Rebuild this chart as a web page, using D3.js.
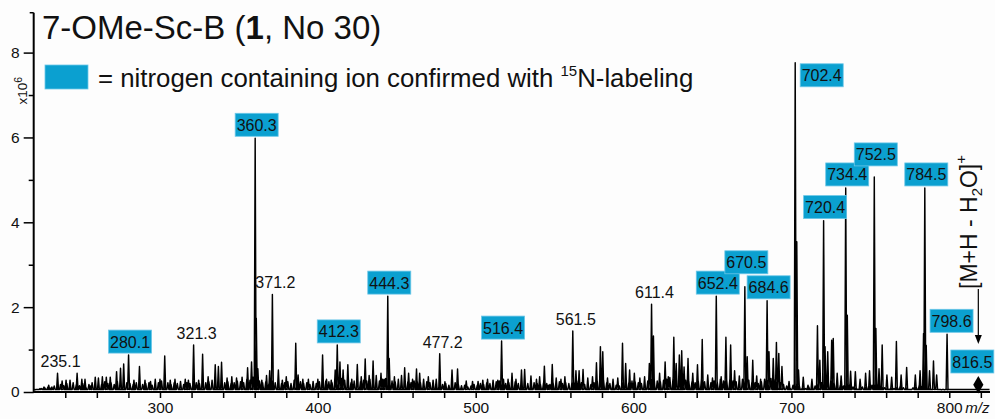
<!DOCTYPE html>
<html>
<head>
<meta charset="utf-8">
<script src="https://cdn.jsdelivr.net/npm/d3@7"></script>
<style>
  html, body { margin: 0; padding: 0; background: #fdfdfd; }
  svg { display: block; font-family: "Liberation Sans", Arial, sans-serif; }
</style>
</head>
<body>
<svg id="chart" width="995" height="419"></svg>
<script>
// ---- spectrum data (intensity in units of 10^6 counts) ----
const annotatedMz = [235.1, 280.1, 321.3, 360.3, 371.2, 412.3, 444.3, 477.2, 516.4, 561.5,
                     611.4, 652.4, 670.5, 684.6, 702.4, 720.4, 734.4, 752.5, 784.5, 798.6];
const annotatedIntensity = [0.44, 0.87, 1.11, 5.98, 2.30, 1.11, 2.26, 0.90, 1.20, 1.44,
                            2.07, 2.26, 2.48, 2.15, 7.76, 4.04, 4.81, 5.07, 4.81, 1.36];
const nitrogenConfirmed = [false, true, false, true, false, true, true, false, true, false,
                           false, true, true, true, true, true, true, true, true, true];

// unlabelled signals [m/z, intensity]
const minorPeaks = [
  [224.0, 0.08], [226.5, 0.12], [229.5, 0.16], [231.5, 0.12], [238.0, 0.26], [240.5, 0.28],
  [243.0, 0.28], [247.5, 0.44], [250.5, 0.30], [252.5, 0.30], [256.0, 0.14], [259.0, 0.35],
  [261.0, 0.33], [263.5, 0.36], [266.0, 0.35], [268.5, 0.35], [272.5, 0.48], [275.0, 0.56],
  [277.0, 0.66], [283.5, 0.28], [287.0, 0.60], [290.5, 0.28], [294.0, 0.25], [297.0, 0.30],
  [300.0, 0.30], [303.0, 0.85], [306.5, 0.28], [309.5, 0.30], [313.0, 0.25], [316.0, 0.30],
  [318.0, 0.28], [324.5, 0.28], [327.0, 0.89], [330.5, 0.36], [335.0, 0.64], [337.0, 0.60],
  [339.0, 0.70], [342.5, 0.33], [345.5, 0.36], [348.5, 0.33], [352.0, 0.35], [355.5, 0.57],
  [358.0, 0.71], [361.0, 1.74], [362.0, 0.55], [364.5, 0.28], [367.5, 0.39], [369.5, 0.50],
  [375.0, 0.52], [377.5, 0.28], [380.0, 0.36], [383.0, 0.18], [386.0, 1.15], [387.5, 0.40],
  [390.5, 0.30], [394.0, 0.30], [397.0, 0.25], [400.0, 0.30], [403.0, 0.87], [405.5, 0.30],
  [408.5, 0.28], [411.0, 0.52], [414.0, 0.71], [416.0, 0.52], [419.0, 0.64], [421.5, 0.30],
  [425.0, 0.65], [427.5, 0.36], [430.0, 0.78], [432.5, 0.39], [435.0, 0.73], [437.0, 0.39],
  [440.0, 0.44], [442.0, 0.30], [445.2, 0.79], [448.5, 0.36], [451.0, 0.30], [453.0, 0.39],
  [455.0, 0.57], [457.5, 0.44], [460.0, 0.30], [462.5, 0.54], [464.5, 0.44], [467.0, 0.30],
  [470.0, 0.36], [473.0, 0.28], [475.0, 0.30], [480.5, 0.24], [483.0, 0.14], [485.0, 0.52],
  [488.5, 0.54], [491.0, 0.15], [494.0, 0.26], [498.0, 0.25], [501.5, 0.25], [504.5, 0.28],
  [507.5, 0.30], [511.0, 0.28], [514.0, 0.28], [517.6, 0.30], [520.5, 0.30], [523.0, 0.44],
  [525.5, 0.30], [529.0, 0.52], [531.0, 0.53], [535.0, 0.38], [538.5, 0.30], [540.5, 0.36],
  [543.5, 0.61], [546.0, 0.16], [548.5, 0.65], [551.0, 0.33], [554.0, 0.30], [556.5, 0.36],
  [563.5, 0.50], [565.5, 0.50], [568.0, 0.53], [571.0, 0.33], [574.0, 0.36], [576.5, 0.69],
  [579.0, 1.07], [580.5, 0.95], [583.5, 0.33], [587.0, 0.30], [590.0, 0.33], [593.0, 1.15],
  [595.0, 0.67], [597.5, 0.52], [600.5, 0.44], [604.0, 0.33], [607.0, 0.36], [610.0, 0.67],
  [612.6, 1.32], [616.5, 0.44], [620.0, 0.71], [622.0, 0.36], [625.5, 1.29], [627.0, 0.67],
  [629.0, 0.87], [630.5, 0.97], [632.0, 0.59], [634.5, 0.79], [637.5, 0.44], [640.5, 0.64],
  [643.5, 1.24], [647.0, 0.40], [650.0, 0.33], [655.5, 0.36], [658.5, 1.29], [661.5, 1.11],
  [664.0, 0.50], [667.0, 0.38], [672.0, 0.83], [675.5, 0.75], [678.0, 0.38], [680.5, 0.30],
  [685.8, 0.95], [688.5, 0.79], [690.5, 1.17], [692.0, 0.91], [694.0, 0.60], [698.5, 0.25],
  [703.4, 3.54], [704.5, 0.52], [707.5, 0.35], [710.5, 0.16], [713.0, 0.30], [716.5, 1.56],
  [718.0, 0.75], [721.3, 1.07], [723.0, 0.95], [725.5, 1.22], [726.5, 1.26], [729.0, 0.44],
  [731.5, 0.38], [735.4, 1.81], [737.5, 0.49], [740.5, 0.48], [743.5, 0.30], [747.0, 0.44],
  [749.5, 0.50], [753.5, 1.50], [755.5, 0.55], [757.5, 1.11], [760.5, 0.40], [763.5, 0.35],
  [766.5, 1.19], [769.5, 0.40], [773.0, 0.58], [778.5, 0.40], [781.5, 0.50], [783.7, 1.38],
  [785.4, 1.10], [787.5, 0.50], [790.0, 0.73], [792.0, 0.40]
];

// low-level chemical noise, one reading every 2 m/z from m/z 221 to 799
const noiseStartMz = 221;
const noiseStepMz = 2;
const noiseLevels = [
  0.05, 0.06, 0.08, 0.10, 0.12, 0.10, 0.14, 0.12, 0.18, 0.15,
  0.20, 0.16, 0.22, 0.18, 0.15, 0.20, 0.12, 0.18, 0.22, 0.20,
  0.22, 0.18, 0.24, 0.20, 0.22, 0.18, 0.25, 0.30, 0.28, 0.22,
  0.20, 0.18, 0.22, 0.24, 0.18, 0.20, 0.22, 0.16, 0.20, 0.22,
  0.26, 0.20, 0.22, 0.18, 0.22, 0.20, 0.24, 0.18, 0.22, 0.20,
  0.24, 0.22, 0.20, 0.26, 0.22, 0.24, 0.28, 0.22, 0.26, 0.24,
  0.22, 0.24, 0.20, 0.22, 0.26, 0.24, 0.22, 0.30, 0.28, 0.35,
  0.30, 0.26, 0.22, 0.24, 0.20, 0.26, 0.22, 0.24, 0.20, 0.22,
  0.24, 0.20, 0.28, 0.32, 0.24, 0.20, 0.22, 0.18, 0.22, 0.20,
  0.24, 0.22, 0.26, 0.24, 0.22, 0.30, 0.26, 0.32, 0.28, 0.24,
  0.22, 0.26, 0.30, 0.24, 0.28, 0.26, 0.30, 0.24, 0.28, 0.26,
  0.30, 0.32, 0.28, 0.26, 0.24, 0.28, 0.26, 0.30, 0.24, 0.22,
  0.26, 0.24, 0.22, 0.20, 0.24, 0.22, 0.20, 0.18, 0.22, 0.18,
  0.20, 0.16, 0.18, 0.22, 0.18, 0.14, 0.16, 0.12, 0.14, 0.18,
  0.16, 0.20, 0.18, 0.22, 0.20, 0.18, 0.24, 0.26, 0.22, 0.20,
  0.22, 0.20, 0.24, 0.20, 0.18, 0.22, 0.20, 0.18, 0.22, 0.20,
  0.18, 0.22, 0.20, 0.18, 0.22, 0.20, 0.24, 0.20, 0.22, 0.20,
  0.24, 0.22, 0.26, 0.22, 0.18, 0.20, 0.18, 0.22, 0.26, 0.30,
  0.28, 0.22, 0.20, 0.18, 0.16, 0.14, 0.20, 0.24, 0.22, 0.26,
  0.24, 0.22, 0.20, 0.22, 0.26, 0.30, 0.34, 0.26, 0.24, 0.28,
  0.30, 0.34, 0.32, 0.36, 0.34, 0.30, 0.28, 0.26, 0.24, 0.22,
  0.26, 0.30, 0.24, 0.20, 0.22, 0.26, 0.24, 0.30, 0.26, 0.28,
  0.30, 0.26, 0.24, 0.28, 0.30, 0.26, 0.28, 0.24, 0.22, 0.20,
  0.24, 0.30, 0.28, 0.32, 0.30, 0.26, 0.22, 0.18, 0.14, 0.10,
  0.16, 0.20, 0.14, 0.10, 0.08, 0.12, 0.10, 0.14, 0.20, 0.22,
  0.26, 0.30, 0.28, 0.22, 0.18, 0.16, 0.14, 0.20, 0.18, 0.12,
  0.10, 0.08, 0.12, 0.10, 0.14, 0.16, 0.20, 0.18, 0.12, 0.10,
  0.08, 0.10, 0.08, 0.12, 0.14, 0.10, 0.08, 0.06, 0.10, 0.12,
  0.16, 0.14, 0.12, 0.08, 0.06, 0.08, 0.06, 0.05, 0.05, 0.05
];

// [M+H - H2O]+ position
const precursorMz = 816.5;

// axis ticks
const yMajorTicks = [0, 2, 4, 6, 8];
const yMinorTicks = [1, 3, 5, 7];
const xLabelTicks = [300, 400, 500, 600, 700, 800];
const xAllTicks = d3.range(240, 821, 20);

// ---- layout ----
const svg = d3.select("#chart");
const x = d3.scaleLinear().domain([220, 825.8]).range([33.7, 990]);
const y = d3.scaleLinear().domain([0, 8]).range([392, 52.6]);
const yTop = 8.94;
const nBlue = "#0ba0d0";
const ink = "#111";

// ---- spectrum trace ----
const baseLevel = 0.06, halfWidth = 0.6;
const noisePeaks = noiseLevels.map((v, i) => [noiseStartMz + i * noiseStepMz, v]);
const peaks = minorPeaks
  .concat(noisePeaks)
  .concat(annotatedMz.map((m, i) => [m, annotatedIntensity[i]]))
  .sort((a, b) => a[0] - b[0]);
const tracePts = [[221, baseLevel]];
peaks.forEach(([m, h]) => {
  tracePts.push([m - halfWidth, baseLevel], [m, h], [m + halfWidth, baseLevel]);
});
tracePts.push([825.5, baseLevel]);

const line = d3.line().x(d => x(d[0])).y(d => y(d[1]));
svg.append("path")
  .attr("d", line(tracePts))
  .attr("fill", "none")
  .attr("stroke", "#000")
  .attr("stroke-width", 1.45)
  .attr("stroke-linejoin", "round");

// ---- axes ----
const xAxis = d3.axisBottom(x)
  .tickValues(xAllTicks)
  .tickFormat(d => (xLabelTicks.includes(d) ? d : ""))
  .tickSize(6).tickSizeOuter(0).tickPadding(4);
const gx = svg.append("g").attr("transform", `translate(0,${y(0)})`).call(xAxis);
gx.select(".domain").remove();
gx.selectAll(".tick line").attr("stroke", "#000").attr("stroke-width", 1.5);
gx.selectAll(".tick text").attr("font-size", 15.5).attr("fill", ink)
  .attr("font-family", "'Liberation Sans', Arial, sans-serif");
svg.append("line")
  .attr("x1", x(220)).attr("x2", x(825.8)).attr("y1", y(0)).attr("y2", y(0))
  .attr("stroke", "#000").attr("stroke-width", 2);
svg.append("text")
  .attr("x", x(800) + 16).attr("y", y(0) + 21)
  .attr("font-size", 15).attr("font-style", "italic").attr("fill", ink)
  .text("m/z");

const yAxis = d3.axisLeft(y)
  .tickValues(yMajorTicks.concat(yMinorTicks))
  .tickFormat(d => (yMajorTicks.includes(d) ? d : ""))
  .tickSize(10).tickSizeOuter(0).tickPadding(4);
const gy = svg.append("g").attr("transform", `translate(${x(220)},0)`).call(yAxis);
gy.select(".domain").remove();
gy.selectAll(".tick line")
  .attr("stroke", "#000").attr("stroke-width", 1.5)
  .attr("x2", d => (yMajorTicks.includes(d) ? -10 : -5));
gy.selectAll(".tick text").attr("font-size", 15.5).attr("fill", ink)
  .attr("font-family", "'Liberation Sans', Arial, sans-serif");
svg.append("line")
  .attr("x1", x(220)).attr("x2", x(220)).attr("y1", y(0) + 1).attr("y2", y(yTop))
  .attr("stroke", "#000").attr("stroke-width", 2);
svg.append("line")
  .attr("x1", x(220) - 4).attr("x2", x(220)).attr("y1", y(yTop)).attr("y2", y(yTop))
  .attr("stroke", "#000").attr("stroke-width", 1.5);

// intensity multiplier
const mult = svg.append("text")
  .attr("transform", `translate(27,${y(7.1)}) rotate(-90)`)
  .attr("font-size", 13.5).attr("fill", ink).attr("text-anchor", "middle");
mult.append("tspan").text("x10");
mult.append("tspan").attr("font-size", 10.5).attr("dy", -5).text("6");

// ---- title and legend ----
const title = svg.append("text")
  .attr("x", 42).attr("y", 39).attr("font-size", 33).attr("fill", ink);
title.append("tspan").text("7-OMe-Sc-B (");
title.append("tspan").attr("font-weight", "bold").text("1");
title.append("tspan").text(", No 30)");

svg.append("rect").attr("x", 45).attr("y", 65).attr("width", 43).attr("height", 24)
  .attr("fill", nBlue).attr("stroke", "#6cc7e8").attr("stroke-width", 0.8);
const leg = svg.append("text").attr("x", 98).attr("y", 87).attr("font-size", 25.8).attr("fill", ink);
leg.append("tspan").text("= nitrogen containing ion confirmed with ");
leg.append("tspan").attr("font-size", 15).attr("dy", -11).text("15");
leg.append("tspan").attr("dy", 11).text("N-labeling");

// ---- peak annotations ----
const boxW = 43, boxH = 23;
// extra vertical lift / sideways nudge for crowded labels; the base peak label sits beside its line
const labelLift = { "670.5": 11, "752.5": 9 };
const labelNudge = { "798.6": 3 };
const sideLabel = { "702.4": true };

const ann = svg.append("g").attr("font-size", 16).attr("fill", ink);
annotatedMz.forEach((m, i) => {
  const px = x(m), top = y(annotatedIntensity[i]);
  const key = m.toFixed(1);
  if (nitrogenConfirmed[i]) {
    let cx = px + 1.5 + (labelNudge[key] || 0), bottom = top - 2 - (labelLift[key] || 0);
    if (sideLabel[key]) { cx = px + 5 + boxW / 2; bottom = top + boxH + 1; }
    ann.append("rect")
      .attr("x", cx - boxW / 2).attr("y", bottom - boxH)
      .attr("width", boxW).attr("height", boxH)
      .attr("fill", nBlue).attr("stroke", "#6cc7e8").attr("stroke-width", 0.8);
    ann.append("text").attr("x", cx).attr("y", bottom - 5.5)
      .attr("text-anchor", "middle").text(key);
  } else {
    ann.append("text").attr("x", px + 3).attr("y", top - 6)
      .attr("text-anchor", "middle").text(key);
  }
});

// precursor marker: diamond, box, arrow and rotated ion label
const px0 = x(precursorMz);
const mkX = px0 + 3;
ann.append("path")
  .attr("d", d3.symbol().type(d3.symbolDiamond).size(90)())
  .attr("transform", `translate(${mkX},${y(0.17)})`)
  .attr("fill", "#000");
ann.append("rect")
  .attr("x", mkX - 6 - boxW / 2).attr("y", 350).attr("width", boxW).attr("height", boxH)
  .attr("fill", nBlue).attr("stroke", "#6cc7e8").attr("stroke-width", 0.8);
ann.append("text").attr("x", mkX - 6).attr("y", 367.5).attr("text-anchor", "middle")
  .text(precursorMz.toFixed(1));

svg.append("line").attr("x1", mkX).attr("x2", mkX).attr("y1", 289).attr("y2", 336)
  .attr("stroke", "#000").attr("stroke-width", 1.2);
svg.append("path")
  .attr("d", `M${mkX - 3.5},335 L${mkX + 3.5},335 L${mkX},344 Z`)
  .attr("fill", "#000");

const ion = svg.append("text")
  .attr("transform", `translate(${mkX - 1},289) rotate(-90)`)
  .attr("font-size", 23).attr("fill", ink);
ion.append("tspan").text("[M+H - H");
ion.append("tspan").attr("font-size", 15).attr("dy", 5).text("2");
ion.append("tspan").attr("dy", -5).text("O]");
ion.append("tspan").attr("font-size", 15).attr("dy", -11).text("+");
</script>
</body>
</html>
